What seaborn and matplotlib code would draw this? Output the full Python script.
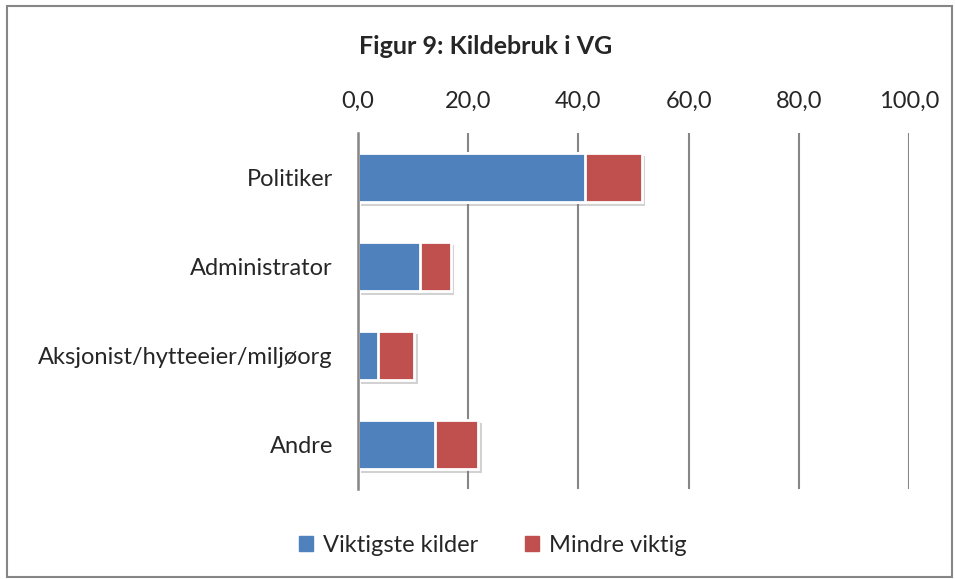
import matplotlib
matplotlib.use('Agg')
import pandas as pd
import seaborn as sns
import matplotlib.pyplot as plt
import matplotlib.patheffects as pe
from matplotlib.patches import Patch, Rectangle

categories = ['Politiker', 'Administrator', 'Aksjonist/hytteeier/miljøorg', 'Andre']
viktigste = [41.2, 11.2, 3.6, 13.9]
mindre = [10.3, 5.6, 6.6, 7.9]
ticks = [0, 20, 40, 60, 80, 100]

blue = '#4F81BD'
red = '#C0504D'

df = pd.DataFrame({'kategori': categories, 'viktigste': viktigste, 'mindre': mindre})
df['total'] = df['viktigste'] + df['mindre']

sns.set_style('white')
plt.rcParams['font.family'] = ['Lato', 'DejaVu Sans']

fig = plt.figure(figsize=(9.55, 5.79), dpi=100)
ax = fig.add_axes([358 / 955, 1 - 489 / 579, 551 / 955, 356 / 579])

shadow = [pe.SimplePatchShadow(offset=(2.5, -2.5), alpha=0.35, shadow_rgbFace='#808080'), pe.Normal()]

sns.barplot(data=df, x='total', y='kategori', color=red, saturation=1, width=0.56,
            edgecolor='white', linewidth=2, ax=ax)
n = len(ax.patches)
sns.barplot(data=df, x='viktigste', y='kategori', color=blue, saturation=1, width=0.56,
            edgecolor='white', linewidth=2, ax=ax)
for p in ax.patches[:n]:
    p.set_path_effects(shadow)

ax.set_xlim(0, 100)
ax.set_xticks(ticks)
ax.set_xticklabels(['{:.1f}'.format(t).replace('.', ',') for t in ticks])
ax.xaxis.tick_top()
ax.tick_params(axis='x', length=0, labelsize=17, pad=15)
ax.tick_params(axis='y', length=0, labelsize=17, pad=18)
ax.set_xlabel('')
ax.set_ylabel('')
ax.grid(axis='x', color='#868686', linewidth=1.5)
ax.set_axisbelow(True)
for s in ['top', 'right', 'bottom']:
    ax.spines[s].set_visible(False)
ax.spines['left'].set_color('#868686')
ax.spines['left'].set_linewidth(1.8)
ax.spines['left'].set_zorder(5)

fig.text(0.508, 1 - 47 / 579, 'Figur 9: Kildebruk i VG', ha='center', va='center',
         fontsize=18, fontweight='bold')

handles = [Patch(color=blue, label='Viktigste kilder'), Patch(color=red, label='Mindre viktig')]
fig.legend(handles=handles, loc='center', bbox_to_anchor=(0.516, 1 - 545 / 579), ncol=2,
           frameon=False, fontsize=17, handlelength=0.6, handleheight=0.6,
           handletextpad=0.4, columnspacing=2.0)

fig.patches.append(Rectangle((7 / 955, 2 / 579), 945 / 955, 571 / 579, transform=fig.transFigure,
                             fill=False, edgecolor='#868686', linewidth=1.5))

fig.savefig('out.png', dpi=100, facecolor='white')
